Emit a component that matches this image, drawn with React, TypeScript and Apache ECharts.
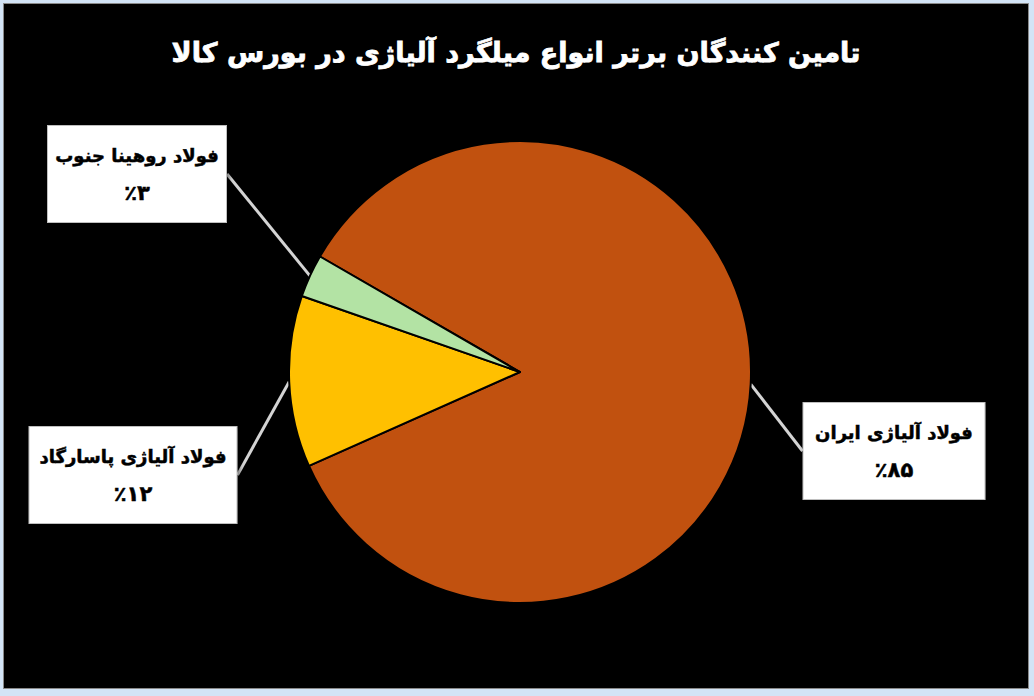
import { useRef, useEffect } from 'react'
import * as echarts from 'echarts'

const titleText = 'تامین کنندگان برتر انواع میلگرد آلیاژی در بورس کالا'
const supplierNames = ['فولاد آلیاژی ایران', 'فولاد آلیاژی پاسارگاد', 'فولاد روهینا جنوب']
const shareValues = [85, 12, 3]
const shareLabels = ['٪۸۵', '٪۱۲', '٪۳']
const sliceColors = ['#C1510F', '#FFC000', '#B3E3A4']

// label box centres (px, chart space) and widths, by slice
const labelBoxes = [
  { x: 890, y: 447, w: 165 },
  { x: 129, y: 471, w: 191 },
  { x: 133, y: 170, w: 162 },
]

export default function App() {
  const chartRef = useRef<HTMLDivElement>(null)

  useEffect(() => {
    if (!chartRef.current) return
    const chart = echarts.init(chartRef.current, null, { renderer: 'svg' })

    const font = '"DejaVu Sans", sans-serif'

    chart.setOption({
      animation: false,
      backgroundColor: '#000000',
      title: {
        text: titleText,
        left: 'center',
        top: 30,
        textStyle: {
          color: '#ffffff',
          fontSize: 27,
          fontWeight: 'bold',
          fontFamily: font,
          textBorderColor: '#ffffff',
          textBorderWidth: 0.8,
        },
      },
      series: [
        {
          type: 'pie',
          center: [516, 368],
          radius: 231,
          startAngle: 150,
          clockwise: true,
          itemStyle: { borderColor: '#000000', borderWidth: 2 },
          label: {
            show: true,
            position: 'outside',
            formatter: (p: any) => `{n|${p.name}}\n{p|${shareLabels[p.dataIndex]}}`,
            backgroundColor: '#ffffff',
            borderColor: '#bfbfbf',
            borderWidth: 1,
            padding: [10, 8],
            overflow: 'none',
            shadowColor: 'rgba(0,0,0,0.5)',
            shadowBlur: 4,
            shadowOffsetX: 2,
            shadowOffsetY: 2,
            align: 'center',
            rich: {
              n: {
                fontFamily: font, fontWeight: 'bold', fontSize: 18, color: '#000', lineHeight: 38, align: 'center',
                textBorderColor: '#000', textBorderWidth: 0.5,
              },
              p: {
                fontFamily: font, fontWeight: 'bold', fontSize: 21, color: '#000', lineHeight: 38, align: 'center',
                textBorderColor: '#000', textBorderWidth: 0.5,
              },
            },
          },
          labelLine: {
            show: true,
            length: 1,
            length2: 0,
            lineStyle: { color: '#d4d4d4', width: 3 },
          },
          labelLayout: (params: any) => {
            const b = labelBoxes[params.dataIndex]
            return { x: b.x, y: b.y, align: 'center', verticalAlign: 'middle' }
          },
          data: supplierNames.map((name, i) => ({
            name,
            value: shareValues[i],
            itemStyle: { color: sliceColors[i] },
            label: { width: labelBoxes[i].w },
          })),
        },
      ],
    })

    return () => {
      chart.dispose()
    }
  }, [])

  return (
    <div style={{ position: 'fixed', left: 0, top: 0, width: 1034, height: 696, background: '#D3E4F6' }}>
      <div
        style={{
          position: 'absolute',
          left: 3,
          top: 3,
          width: 1026,
          height: 686,
          border: '1px solid #8a8a8a',
          boxSizing: 'border-box',
          background: '#000',
        }}
      >
        <div ref={chartRef} style={{ width: 1024, height: 684 }} />
      </div>
    </div>
  )
}
